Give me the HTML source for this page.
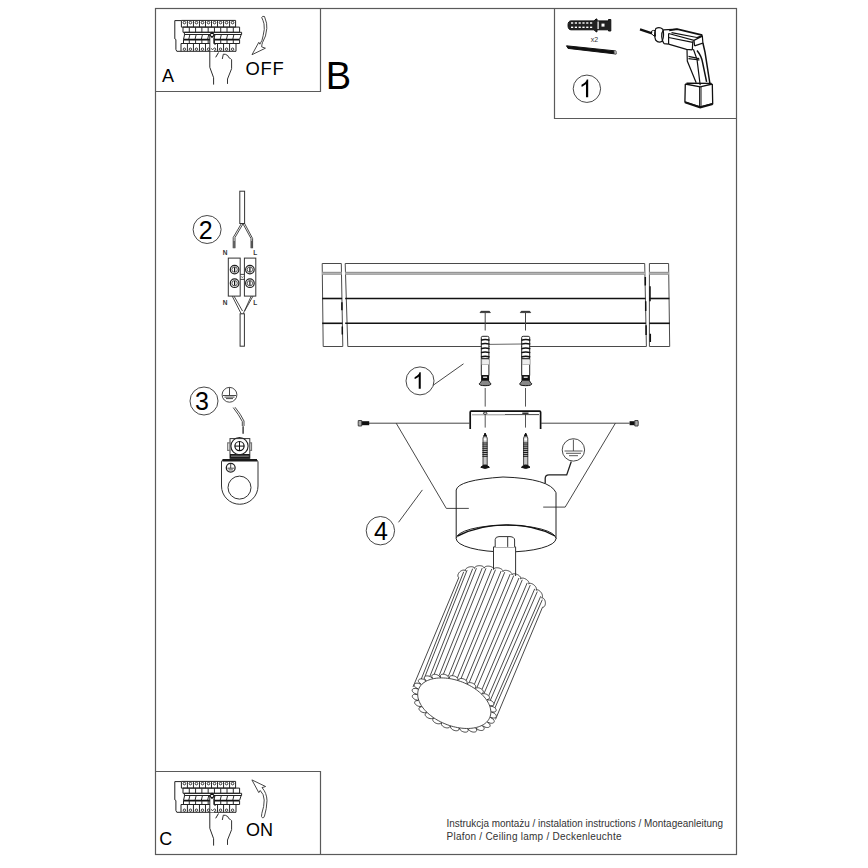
<!DOCTYPE html>
<html><head><meta charset="utf-8"><style>
html,body{margin:0;padding:0;background:#fff;}
svg{display:block;font-family:"Liberation Sans",sans-serif;}
</style></head><body>
<svg width="868" height="868" viewBox="0 0 868 868">
<rect width="868" height="868" fill="#fff"/>
<rect x="155.5" y="8.5" width="581" height="846" fill="none" stroke="#5a5a5a" stroke-width="1.2"/>
<path d="M320.5,8.5 V91.5 H155.5" stroke="#5a5a5a" stroke-width="1.2" fill="none" />
<path d="M554.5,8.5 V118.5 H736.5" stroke="#5a5a5a" stroke-width="1.2" fill="none" />
<path d="M155.5,771.5 H320.5 V854.5" stroke="#5a5a5a" stroke-width="1.2" fill="none" />
<path d="M181.2,20.6 H174.8 V38.8 L175.9,39.5 V49.5 L176.8,51.3 H236" stroke="#222" stroke-width="1" fill="none"/>
<path d="M181.4,27.1 V20.4 H235.6 V27.1 Z" stroke="#222" stroke-width="1" fill="none"/>
<path d="M187.42,20.4 V27.1" stroke="#2a2a2a" stroke-width="1" fill="none"/>
<path d="M193.44,20.4 V27.1" stroke="#2a2a2a" stroke-width="1" fill="none"/>
<path d="M199.47,20.4 V27.1" stroke="#2a2a2a" stroke-width="1" fill="none"/>
<path d="M205.49,20.4 V27.1" stroke="#2a2a2a" stroke-width="1" fill="none"/>
<path d="M211.51,20.4 V27.1" stroke="#2a2a2a" stroke-width="1" fill="none"/>
<path d="M217.53,20.4 V27.1" stroke="#2a2a2a" stroke-width="1" fill="none"/>
<path d="M223.56,20.4 V27.1" stroke="#2a2a2a" stroke-width="1" fill="none"/>
<path d="M229.58,20.4 V27.1" stroke="#2a2a2a" stroke-width="1" fill="none"/>
<circle cx="184.41" cy="22.6" r="1.3" stroke="#222" stroke-width="0.9" fill="none"/>
<circle cx="190.43" cy="22.6" r="1.3" stroke="#222" stroke-width="0.9" fill="none"/>
<circle cx="196.46" cy="22.6" r="1.3" stroke="#222" stroke-width="0.9" fill="none"/>
<circle cx="202.48" cy="22.6" r="1.3" stroke="#222" stroke-width="0.9" fill="none"/>
<circle cx="208.50" cy="22.6" r="1.3" stroke="#222" stroke-width="0.9" fill="none"/>
<circle cx="214.52" cy="22.6" r="1.3" stroke="#222" stroke-width="0.9" fill="none"/>
<circle cx="220.54" cy="22.6" r="1.3" stroke="#222" stroke-width="0.9" fill="none"/>
<circle cx="226.57" cy="22.6" r="1.3" stroke="#222" stroke-width="0.9" fill="none"/>
<circle cx="232.59" cy="22.6" r="1.3" stroke="#222" stroke-width="0.9" fill="none"/>
<path d="M183.0,32.3 V27.1 H239.6 V32.3 Z" stroke="#222" stroke-width="1" fill="none"/>
<path d="M189.29,27.1 V32.3" stroke="#2a2a2a" stroke-width="1" fill="none"/>
<path d="M195.58,27.1 V32.3" stroke="#2a2a2a" stroke-width="1" fill="none"/>
<path d="M201.87,27.1 V32.3" stroke="#2a2a2a" stroke-width="1" fill="none"/>
<path d="M208.16,27.1 V32.3" stroke="#2a2a2a" stroke-width="1" fill="none"/>
<path d="M214.44,27.1 V32.3" stroke="#2a2a2a" stroke-width="1" fill="none"/>
<path d="M220.73,27.1 V32.3" stroke="#2a2a2a" stroke-width="1" fill="none"/>
<path d="M227.02,27.1 V32.3" stroke="#2a2a2a" stroke-width="1" fill="none"/>
<path d="M233.31,27.1 V32.3" stroke="#2a2a2a" stroke-width="1" fill="none"/>
<path d="M184.4,32.3 H241.6 V34.5 H184.4 Z" stroke="#222" stroke-width="1" fill="none"/>
<path d="M183.5,39.5 L184.6,34.5 M241.2,34.5 L239.5,39.5" stroke="#222" stroke-width="1" fill="none"/>
<path d="M189.89,34.5 L188.69,39.5" stroke="#2a2a2a" stroke-width="1" fill="none"/>
<path d="M196.18,34.5 L194.98,39.5" stroke="#2a2a2a" stroke-width="1" fill="none"/>
<path d="M202.47,34.5 L201.27,39.5" stroke="#2a2a2a" stroke-width="1" fill="none"/>
<path d="M208.76,34.5 L207.56,39.5" stroke="#2a2a2a" stroke-width="1" fill="none"/>
<path d="M215.04,34.5 L213.84,39.5" stroke="#2a2a2a" stroke-width="1" fill="none"/>
<path d="M221.33,34.5 L220.13,39.5" stroke="#2a2a2a" stroke-width="1" fill="none"/>
<path d="M227.62,34.5 L226.42,39.5" stroke="#2a2a2a" stroke-width="1" fill="none"/>
<path d="M233.91,34.5 L232.71,39.5" stroke="#2a2a2a" stroke-width="1" fill="none"/>
<path d="M183.5,39.6 H239.3" stroke="#111" stroke-width="1.6" fill="none"/>
<path d="M183.5,39.6 V43.5 H239.6 V39.6" stroke="#222" stroke-width="1" fill="none"/>
<path d="M189.29,39.6 V43.5" stroke="#2a2a2a" stroke-width="1" fill="none"/>
<path d="M195.58,39.6 V43.5" stroke="#2a2a2a" stroke-width="1" fill="none"/>
<path d="M201.87,39.6 V43.5" stroke="#2a2a2a" stroke-width="1" fill="none"/>
<path d="M208.16,39.6 V43.5" stroke="#2a2a2a" stroke-width="1" fill="none"/>
<path d="M214.44,39.6 V43.5" stroke="#2a2a2a" stroke-width="1" fill="none"/>
<path d="M220.73,39.6 V43.5" stroke="#2a2a2a" stroke-width="1" fill="none"/>
<path d="M227.02,39.6 V43.5" stroke="#2a2a2a" stroke-width="1" fill="none"/>
<path d="M233.31,39.6 V43.5" stroke="#2a2a2a" stroke-width="1" fill="none"/>
<path d="M181,43.5 V51.3 M236,43.5 V51.3 M181,43.5 H236" stroke="#222" stroke-width="1" fill="none"/>
<path d="M187.42,43.5 V51.3" stroke="#2a2a2a" stroke-width="1" fill="none"/>
<path d="M193.44,43.5 V51.3" stroke="#2a2a2a" stroke-width="1" fill="none"/>
<path d="M199.47,43.5 V51.3" stroke="#2a2a2a" stroke-width="1" fill="none"/>
<path d="M205.49,43.5 V51.3" stroke="#2a2a2a" stroke-width="1" fill="none"/>
<path d="M211.51,43.5 V51.3" stroke="#2a2a2a" stroke-width="1" fill="none"/>
<path d="M217.53,43.5 V51.3" stroke="#2a2a2a" stroke-width="1" fill="none"/>
<path d="M223.56,43.5 V51.3" stroke="#2a2a2a" stroke-width="1" fill="none"/>
<path d="M229.58,43.5 V51.3" stroke="#2a2a2a" stroke-width="1" fill="none"/>
<circle cx="184.41" cy="49.2" r="1.2" stroke="#222" stroke-width="0.9" fill="none"/>
<circle cx="190.43" cy="49.2" r="1.2" stroke="#222" stroke-width="0.9" fill="none"/>
<circle cx="196.46" cy="49.2" r="1.2" stroke="#222" stroke-width="0.9" fill="none"/>
<circle cx="202.48" cy="49.2" r="1.2" stroke="#222" stroke-width="0.9" fill="none"/>
<circle cx="208.50" cy="49.2" r="1.2" stroke="#222" stroke-width="0.9" fill="none"/>
<circle cx="214.52" cy="49.2" r="1.2" stroke="#222" stroke-width="0.9" fill="none"/>
<circle cx="220.54" cy="49.2" r="1.2" stroke="#222" stroke-width="0.9" fill="none"/>
<circle cx="226.57" cy="49.2" r="1.2" stroke="#222" stroke-width="0.9" fill="none"/>
<circle cx="232.59" cy="49.2" r="1.2" stroke="#222" stroke-width="0.9" fill="none"/>
<rect x="210" y="34.8" width="4" height="16.5" fill="#fff"/>
<path d="M209.8,35 V67.3 L213.6,77.7 V84.6" stroke="#2a2a2a" stroke-width="1" fill="none"/>
<path d="M214,35 V43.5" stroke="#2a2a2a" stroke-width="1" fill="none"/>
<path d="M209.8,34.8 L212,32.4 L214.3,34.8 L212,37.3 Z" fill="#fff" stroke="#111" stroke-width="1.2"/>
<path d="M214.1,38 V43.5 L215.5,45" stroke="#222" stroke-width="1" fill="none"/>
<path d="M211.3,48.2 L212.5,50 L213.7,48.2" stroke="#333" stroke-width="0.8" fill="none"/>
<path d="M215.7,57.3 L218.5,52.5" stroke="#222" stroke-width="1" fill="none"/>
<path d="M222.3,59 L223.3,54.2 Q225.5,53.8 227.8,55.6 L228.8,57.6 Q230.5,58.2 231.6,59.7 V68.7 L227.5,79 V83.9" stroke="#333" stroke-width="1" fill="none"/>
<path d="M181.2,781.6 H174.8 V799.8 L175.9,800.5 V810.5 L176.8,812.3 H236" stroke="#222" stroke-width="1" fill="none"/>
<path d="M181.4,788.1 V781.4 H235.6 V788.1 Z" stroke="#222" stroke-width="1" fill="none"/>
<path d="M187.42,781.4 V788.1" stroke="#2a2a2a" stroke-width="1" fill="none"/>
<path d="M193.44,781.4 V788.1" stroke="#2a2a2a" stroke-width="1" fill="none"/>
<path d="M199.47,781.4 V788.1" stroke="#2a2a2a" stroke-width="1" fill="none"/>
<path d="M205.49,781.4 V788.1" stroke="#2a2a2a" stroke-width="1" fill="none"/>
<path d="M211.51,781.4 V788.1" stroke="#2a2a2a" stroke-width="1" fill="none"/>
<path d="M217.53,781.4 V788.1" stroke="#2a2a2a" stroke-width="1" fill="none"/>
<path d="M223.56,781.4 V788.1" stroke="#2a2a2a" stroke-width="1" fill="none"/>
<path d="M229.58,781.4 V788.1" stroke="#2a2a2a" stroke-width="1" fill="none"/>
<circle cx="184.41" cy="783.6" r="1.3" stroke="#222" stroke-width="0.9" fill="none"/>
<circle cx="190.43" cy="783.6" r="1.3" stroke="#222" stroke-width="0.9" fill="none"/>
<circle cx="196.46" cy="783.6" r="1.3" stroke="#222" stroke-width="0.9" fill="none"/>
<circle cx="202.48" cy="783.6" r="1.3" stroke="#222" stroke-width="0.9" fill="none"/>
<circle cx="208.50" cy="783.6" r="1.3" stroke="#222" stroke-width="0.9" fill="none"/>
<circle cx="214.52" cy="783.6" r="1.3" stroke="#222" stroke-width="0.9" fill="none"/>
<circle cx="220.54" cy="783.6" r="1.3" stroke="#222" stroke-width="0.9" fill="none"/>
<circle cx="226.57" cy="783.6" r="1.3" stroke="#222" stroke-width="0.9" fill="none"/>
<circle cx="232.59" cy="783.6" r="1.3" stroke="#222" stroke-width="0.9" fill="none"/>
<path d="M183.0,793.3 V788.1 H239.6 V793.3 Z" stroke="#222" stroke-width="1" fill="none"/>
<path d="M189.29,788.1 V793.3" stroke="#2a2a2a" stroke-width="1" fill="none"/>
<path d="M195.58,788.1 V793.3" stroke="#2a2a2a" stroke-width="1" fill="none"/>
<path d="M201.87,788.1 V793.3" stroke="#2a2a2a" stroke-width="1" fill="none"/>
<path d="M208.16,788.1 V793.3" stroke="#2a2a2a" stroke-width="1" fill="none"/>
<path d="M214.44,788.1 V793.3" stroke="#2a2a2a" stroke-width="1" fill="none"/>
<path d="M220.73,788.1 V793.3" stroke="#2a2a2a" stroke-width="1" fill="none"/>
<path d="M227.02,788.1 V793.3" stroke="#2a2a2a" stroke-width="1" fill="none"/>
<path d="M233.31,788.1 V793.3" stroke="#2a2a2a" stroke-width="1" fill="none"/>
<path d="M184.4,793.3 H241.6 V795.5 H184.4 Z" stroke="#222" stroke-width="1" fill="none"/>
<path d="M183.5,800.5 L184.6,795.5 M241.2,795.5 L239.5,800.5" stroke="#222" stroke-width="1" fill="none"/>
<path d="M189.89,795.5 L188.69,800.5" stroke="#2a2a2a" stroke-width="1" fill="none"/>
<path d="M196.18,795.5 L194.98,800.5" stroke="#2a2a2a" stroke-width="1" fill="none"/>
<path d="M202.47,795.5 L201.27,800.5" stroke="#2a2a2a" stroke-width="1" fill="none"/>
<path d="M208.76,795.5 L207.56,800.5" stroke="#2a2a2a" stroke-width="1" fill="none"/>
<path d="M215.04,795.5 L213.84,800.5" stroke="#2a2a2a" stroke-width="1" fill="none"/>
<path d="M221.33,795.5 L220.13,800.5" stroke="#2a2a2a" stroke-width="1" fill="none"/>
<path d="M227.62,795.5 L226.42,800.5" stroke="#2a2a2a" stroke-width="1" fill="none"/>
<path d="M233.91,795.5 L232.71,800.5" stroke="#2a2a2a" stroke-width="1" fill="none"/>
<path d="M183.5,800.6 H239.3" stroke="#111" stroke-width="1.6" fill="none"/>
<path d="M183.5,800.6 V804.5 H239.6 V800.6" stroke="#222" stroke-width="1" fill="none"/>
<path d="M189.29,800.6 V804.5" stroke="#2a2a2a" stroke-width="1" fill="none"/>
<path d="M195.58,800.6 V804.5" stroke="#2a2a2a" stroke-width="1" fill="none"/>
<path d="M201.87,800.6 V804.5" stroke="#2a2a2a" stroke-width="1" fill="none"/>
<path d="M208.16,800.6 V804.5" stroke="#2a2a2a" stroke-width="1" fill="none"/>
<path d="M214.44,800.6 V804.5" stroke="#2a2a2a" stroke-width="1" fill="none"/>
<path d="M220.73,800.6 V804.5" stroke="#2a2a2a" stroke-width="1" fill="none"/>
<path d="M227.02,800.6 V804.5" stroke="#2a2a2a" stroke-width="1" fill="none"/>
<path d="M233.31,800.6 V804.5" stroke="#2a2a2a" stroke-width="1" fill="none"/>
<path d="M181,804.5 V812.3 M236,804.5 V812.3 M181,804.5 H236" stroke="#222" stroke-width="1" fill="none"/>
<path d="M187.42,804.5 V812.3" stroke="#2a2a2a" stroke-width="1" fill="none"/>
<path d="M193.44,804.5 V812.3" stroke="#2a2a2a" stroke-width="1" fill="none"/>
<path d="M199.47,804.5 V812.3" stroke="#2a2a2a" stroke-width="1" fill="none"/>
<path d="M205.49,804.5 V812.3" stroke="#2a2a2a" stroke-width="1" fill="none"/>
<path d="M211.51,804.5 V812.3" stroke="#2a2a2a" stroke-width="1" fill="none"/>
<path d="M217.53,804.5 V812.3" stroke="#2a2a2a" stroke-width="1" fill="none"/>
<path d="M223.56,804.5 V812.3" stroke="#2a2a2a" stroke-width="1" fill="none"/>
<path d="M229.58,804.5 V812.3" stroke="#2a2a2a" stroke-width="1" fill="none"/>
<circle cx="184.41" cy="810.2" r="1.2" stroke="#222" stroke-width="0.9" fill="none"/>
<circle cx="190.43" cy="810.2" r="1.2" stroke="#222" stroke-width="0.9" fill="none"/>
<circle cx="196.46" cy="810.2" r="1.2" stroke="#222" stroke-width="0.9" fill="none"/>
<circle cx="202.48" cy="810.2" r="1.2" stroke="#222" stroke-width="0.9" fill="none"/>
<circle cx="208.50" cy="810.2" r="1.2" stroke="#222" stroke-width="0.9" fill="none"/>
<circle cx="214.52" cy="810.2" r="1.2" stroke="#222" stroke-width="0.9" fill="none"/>
<circle cx="220.54" cy="810.2" r="1.2" stroke="#222" stroke-width="0.9" fill="none"/>
<circle cx="226.57" cy="810.2" r="1.2" stroke="#222" stroke-width="0.9" fill="none"/>
<circle cx="232.59" cy="810.2" r="1.2" stroke="#222" stroke-width="0.9" fill="none"/>
<rect x="210" y="795.8" width="4" height="16.5" fill="#fff"/>
<path d="M209.8,796 V828.3 L213.6,838.7 V845.6" stroke="#2a2a2a" stroke-width="1" fill="none"/>
<path d="M214,796 V804.5" stroke="#2a2a2a" stroke-width="1" fill="none"/>
<path d="M209.8,795.8 L212,793.4 L214.3,795.8 L212,798.3 Z" fill="#fff" stroke="#111" stroke-width="1.2"/>
<path d="M214.1,799 V804.5 L215.5,806" stroke="#222" stroke-width="1" fill="none"/>
<path d="M211.3,809.2 L212.5,811 L213.7,809.2" stroke="#333" stroke-width="0.8" fill="none"/>
<path d="M215.7,818.3 L218.5,813.5" stroke="#222" stroke-width="1" fill="none"/>
<path d="M222.3,820 L223.3,815.2 Q225.5,814.8 227.8,816.6 L228.8,818.6 Q230.5,819.2 231.6,820.7 V829.7 L227.5,840 V844.9" stroke="#333" stroke-width="1" fill="none"/>
<path d="M261.7,17.4 Q262.5,15.8 264.5,16.5 Q267.5,24 266.8,28.4 Q266.3,36.5 262.6,42.3 Q261.6,44.8 261.7,46.9 L265.4,48.2 L252,54.7 L258.8,42.3 L259.9,44.2 Q262.5,40.5 263.1,35.8 Q265,29 264,23.8 Q263,20 261.7,17.4 Z" stroke="#333" stroke-width="0.9" fill="none" />
<path d="M262.5,817.8 Q260.8,817.3 261.8,813.5 Q264.3,806 264.2,800 Q264,794 260.2,790.5 L258.8,792.6 L251.9,779.9 L265.6,786.5 L262,787.6 Q266.8,793 267,800.5 Q266.7,809 264.5,816 Q263.8,818.3 262.5,817.8 Z" stroke="#333" stroke-width="0.9" fill="none" />
<text x="162" y="81.9" font-size="18" text-anchor="start" fill="#000" >A</text>
<text font-size="18.4" fill="#000" y="74.7"><tspan x="245.6">O</tspan><tspan x="260.4">F</tspan><tspan x="272.6">F</tspan></text>
<text x="325.8" y="88.6" font-size="38" text-anchor="start" fill="#000" >B</text>
<text x="159.3" y="845" font-size="18" text-anchor="start" fill="#000" >C</text>
<text x="246" y="835.7" font-size="18" text-anchor="start" fill="#000" >ON</text>
<circle cx="586.9" cy="88.75" r="13.7" stroke="#333" stroke-width="0.9" fill="none"/>
<path d="M585.98,97.30 L588.19,97.30 L588.19,79.40 L586.76,79.40 L586.19,81.06 L585.21,82.16 L583.99,83.26 L582.77,84.12 L581.50,84.73 L581.50,86.85 L582.57,86.45 L583.92,85.62 L585.26,84.79 L585.98,84.02 Z" fill="#000"/>
<circle cx="207.1" cy="229.5" r="14" stroke="#333" stroke-width="0.9" fill="none"/>
<text x="205.79999999999998" y="238.5" font-size="25" text-anchor="middle" fill="#000" >2</text>
<circle cx="204" cy="401" r="14" stroke="#333" stroke-width="0.9" fill="none"/>
<text x="202.0" y="410.0" font-size="25" text-anchor="middle" fill="#000" >3</text>
<circle cx="420" cy="380.9" r="14" stroke="#333" stroke-width="0.9" fill="none"/>
<path d="M418.72,388.70 L420.75,388.70 L420.75,372.24 L419.44,372.24 L418.91,373.76 L418.01,374.77 L416.89,375.78 L415.77,376.57 L414.60,377.13 L414.60,379.09 L415.59,378.72 L416.82,377.95 L418.06,377.19 L418.72,376.48 Z" fill="#000"/>
<circle cx="380.4" cy="530.7" r="14.2" stroke="#333" stroke-width="0.9" fill="none"/>
<text x="381.0" y="539.7" font-size="25" text-anchor="middle" fill="#000" >4</text>
<line x1="433.1" y1="385.3" x2="463.5" y2="363.8" stroke="#333" stroke-width="0.9" />
<line x1="398.5" y1="522.3" x2="422.4" y2="489.9" stroke="#333" stroke-width="0.9" />
<text x="446.5" y="826.7" font-size="10" text-anchor="start" fill="#333" textLength="276.5" lengthAdjust="spacingAndGlyphs">Instrukcja montażu / instalation instructions / Montageanleitung</text>
<text x="446.5" y="839.6" font-size="10" text-anchor="start" fill="#333" textLength="175" lengthAdjust="spacing">Plafon / Ceiling lamp / Deckenleuchte</text>
<path d="M568,25.3 Q568,21 571,20.9 H594 L596,19 L597,19 V20.9 H608.5 V19.5 H610.8 V31 H608.5 V29.8 H597 V31.8 H596 L594,29.8 H571 Q568,29.8 568,25.3 Z" stroke="#111" stroke-width="1" fill="#222" />
<rect x="571.0" y="22.3" width="2.2" height="1.4" fill="#fff"/>
<rect x="571.0" y="26.6" width="2.2" height="1.4" fill="#fff"/>
<rect x="574.8" y="22.3" width="2.2" height="1.4" fill="#fff"/>
<rect x="574.8" y="26.6" width="2.2" height="1.4" fill="#fff"/>
<rect x="578.6" y="22.3" width="2.2" height="1.4" fill="#fff"/>
<rect x="578.6" y="26.6" width="2.2" height="1.4" fill="#fff"/>
<rect x="582.4" y="22.3" width="2.2" height="1.4" fill="#fff"/>
<rect x="582.4" y="26.6" width="2.2" height="1.4" fill="#fff"/>
<rect x="586.2" y="22.3" width="2.2" height="1.4" fill="#fff"/>
<rect x="586.2" y="26.6" width="2.2" height="1.4" fill="#fff"/>
<rect x="590.0" y="22.3" width="2.2" height="1.4" fill="#fff"/>
<rect x="590.0" y="26.6" width="2.2" height="1.4" fill="#fff"/>
<rect x="601.5" y="23.6" width="3" height="3" fill="#fff"/>
<rect x="597.5" y="21.5" width="1.2" height="7.5" fill="#fff"/>
<text x="594.5" y="41.5" font-size="7" text-anchor="middle" fill="#333" >x2</text>
<path d="M566.5,45.8 L615.5,50.9 L616,54 L568,48.4 Z" stroke="#111" stroke-width="1" fill="#111" />
<path d="M614,50.7 L616.2,51 L616.6,54 L614.4,53.7 Z" stroke="#666" stroke-width="0.6" fill="#bbb" />
<path d="M640,29.3 L652,33.3" stroke="#111" stroke-width="2.4" fill="none" />
<path d="M651.5,31.2 Q653.5,30 655.2,30.5 L655.5,36.3 Q652.6,35.8 651.5,33.5 Z" stroke="#111" stroke-width="1" fill="none" />
<path d="M655.8,28.6 Q659.5,26.5 662.8,29.2 Q664.6,35 662.2,41.2 Q658.5,43.5 655.6,40 Q653.6,34.5 655.8,28.6 Z" stroke="#111" stroke-width="1.2" fill="none" />
<path d="M663.5,29.8 Q661,33 661.7,36.7 Q662,41 664,43.6 M663.5,29.8 L677.3,29.2 M664,43.6 L668.6,44.2 M668.6,33.5 V44.2" stroke="#111" stroke-width="1.2" fill="none" />
<path d="M669.2,30.3 L677.3,29.2 L702.3,35.2" stroke="#111" stroke-width="1.8" fill="none" />
<path d="M671.5,32.6 L696.9,37.5 L702.3,35.5 M668.6,33.5 L694,40.4 L702.3,36.1 M668.6,37.5 L692.8,42.4" stroke="#111" stroke-width="1.2" fill="none" />
<path d="M668.6,44.2 L686.5,49.3 L692.3,49.9 M702.3,35.5 L702.9,43 L694.6,45.9 M692.8,41.3 L692.3,49.9 M694,40.4 L694.6,45.9" stroke="#111" stroke-width="1.2" fill="none" />
<path d="M687,49.3 L687.3,61 L696.2,82.7 M688.5,56.3 L699.2,58.6 M688.5,58.6 L699.5,60 M693.4,49.3 L697,59.4 L700.2,85.2" stroke="#111" stroke-width="1.2" fill="none" />
<path d="M697,50.5 Q701.5,56 702.6,62.6 L706.6,81.9 M702.9,43 L705,52.1 L709.9,83.5" stroke="#111" stroke-width="1.5" fill="none" />
<path d="M685.3,84 L700.2,86.8 L712.3,84 M686.5,83.2 L711.5,83.3 M685.3,84 L684.9,102.1 L700.2,106.9 L712.7,103.7 L712.3,84" stroke="#111" stroke-width="1.3" fill="none" />
<path d="M699.6,86.8 V106.9 M701,86.8 V106.9" stroke="#111" stroke-width="1" fill="none" />
<path d="M685,102.3 L700.2,107.4 L712.7,104" stroke="#111" stroke-width="2" fill="none" />
<rect x="239.8" y="191.2" width="4.8" height="32.3" fill="none" stroke="#333" stroke-width="1"/>
<path d="M241.4,223.5 L233.2,237.5 V248.2 M243.2,223.5 L235,237.5 V248.2" stroke="#333" stroke-width="0.9" fill="none" />
<path d="M242.8,223.5 L251,238.5 V248.2 M244.6,223.5 L252.6,238.5 V248.2" stroke="#333" stroke-width="0.9" fill="none" />
<path d="M234.1,241 V248.2 M251.8,241 V248.2" stroke="#444" stroke-width="1.2" fill="none" />
<text x="222.8" y="255" font-size="6.5" text-anchor="start" fill="#333" font-weight="bold">N</text>
<text x="253.3" y="255" font-size="6.5" text-anchor="start" fill="#333" font-weight="bold">L</text>
<rect x="228.3" y="258.1" width="11.9" height="38" fill="none" stroke="#333" stroke-width="1"/>
<rect x="244.4" y="258.1" width="11.4" height="38" fill="none" stroke="#333" stroke-width="1"/>
<path d="M240.2,274.4 H244.4 M240.2,279.4 H244.4" stroke="#333" stroke-width="0.9" fill="none" />
<path d="M241.3,276.3 L242.3,277.8 L243.3,276.3" fill="none" stroke="#555" stroke-width="0.7"/>
<circle cx="234.6" cy="269.6" r="4.3" stroke="#222" stroke-width="1.2" fill="none"/>
<circle cx="234.6" cy="269.6" r="2.7" stroke="#444" stroke-width="0.9" fill="none"/>
<line x1="234.6" y1="267.3" x2="234.6" y2="271.90000000000003" stroke="#111" stroke-width="1.2" />
<circle cx="234.6" cy="283.2" r="4.3" stroke="#222" stroke-width="1.2" fill="none"/>
<circle cx="234.6" cy="283.2" r="2.7" stroke="#444" stroke-width="0.9" fill="none"/>
<line x1="234.6" y1="280.9" x2="234.6" y2="285.5" stroke="#111" stroke-width="1.2" />
<circle cx="249.9" cy="269.6" r="4.3" stroke="#222" stroke-width="1.2" fill="none"/>
<circle cx="249.9" cy="269.6" r="2.7" stroke="#444" stroke-width="0.9" fill="none"/>
<line x1="249.9" y1="267.3" x2="249.9" y2="271.90000000000003" stroke="#111" stroke-width="1.2" />
<circle cx="249.9" cy="283.2" r="4.3" stroke="#222" stroke-width="1.2" fill="none"/>
<circle cx="249.9" cy="283.2" r="2.7" stroke="#444" stroke-width="0.9" fill="none"/>
<line x1="249.9" y1="280.9" x2="249.9" y2="285.5" stroke="#111" stroke-width="1.2" />
<text x="222.8" y="304.8" font-size="6.5" text-anchor="start" fill="#333" font-weight="bold">N</text>
<text x="253.3" y="304.8" font-size="6.5" text-anchor="start" fill="#333" font-weight="bold">L</text>
<path d="M232.2,296.1 L241.2,313.8 M234,296.1 L242.5,311 M251.2,296.1 L243.2,313.8 M253,296.1 L244.6,311" stroke="#333" stroke-width="0.9" fill="none" />
<rect x="240.1" y="313.8" width="4.3" height="32.4" fill="none" stroke="#333" stroke-width="1"/>
<circle cx="229.5" cy="394.8" r="7.4" stroke="#333" stroke-width="0.9" fill="none"/>
<path d="M229.5,387.4 V395.4 M223,395.5 H236 M224.5,397.1 H234.5 M226,398.6 H233" stroke="#333" stroke-width="0.9" fill="none" />
<path d="M233.2,407.6 Q239,415 242.3,421.5 V426 M235,407.2 Q241,414.5 244,421 V426" stroke="#333" stroke-width="0.9" fill="none" />
<path d="M243.1,426.3 V433.8" stroke="#333" stroke-width="1.4" fill="none" />
<rect x="230" y="438.6" width="19.8" height="19.7" fill="none" stroke="#333" stroke-width="1"/>
<rect x="230" y="454" width="19.8" height="4.6" fill="#1a1a1a"/>
<rect x="231" y="455.6" width="17.8" height="1.1" fill="#888"/>
<path d="M230,442.9 H227.7 V450.3 H230 M249.8,442.9 H251.5 V450.3 H249.8" stroke="#777" stroke-width="1.2" fill="none" />
<circle cx="239.5" cy="446.1" r="8.6" stroke="#222" stroke-width="1.1" fill="none"/>
<circle cx="239.5" cy="446.1" r="4.6" stroke="#111" stroke-width="1.2" fill="none"/>
<path d="M239.5,441.5 V450.7 M234.9,446.1 H244.1" stroke="#111" stroke-width="1" fill="none" />
<path d="M221.5,486 V462 Q221.5,460 223.5,460 H256 Q258,460 258,462 V486 A18.25,18.25 0 0 1 221.5,486 Z" stroke="#333" stroke-width="1" fill="none" />
<path d="M222.5,460.2 H257" stroke="#1a1a1a" stroke-width="2.4" fill="none" />
<circle cx="239.5" cy="487.6" r="11.5" stroke="#333" stroke-width="1" fill="none"/>
<circle cx="230.7" cy="467.8" r="4.4" stroke="#222" stroke-width="1.3" fill="none"/>
<path d="M230.7,463.8 V468.2 M227.5,468.2 H233.9 M228.5,469.9 H232.9" stroke="#333" stroke-width="0.9" fill="none" />
<path d="M323.2,346.5 L322.2,263.5 H341.3 L342.8,346.5 Z" stroke="#4a4a4a" stroke-width="1" fill="none" />
<path d="M347.8,346.5 L345.2,263.5 H644.7 L646.4,346.5 Z" stroke="#4a4a4a" stroke-width="1" fill="none" />
<path d="M649.4,346.5 L649.4,263.5 H668.6 L669.7,346.5 Z" stroke="#4a4a4a" stroke-width="1" fill="none" />
<rect x="322.2" y="271.8" width="19.400000000000034" height="2.8" fill="#c4c4c4"/>
<line x1="322.2" y1="272.4" x2="341.6" y2="272.4" stroke="#8a8a8a" stroke-width="0.9" />
<line x1="322.2" y1="274.2" x2="341.6" y2="274.2" stroke="#8a8a8a" stroke-width="0.9" />
<line x1="322.2" y1="298.5" x2="342.1" y2="298.5" stroke="#111" stroke-width="1.6" />
<line x1="322.2" y1="323.3" x2="342.5" y2="323.3" stroke="#111" stroke-width="1.6" />
<rect x="345.2" y="271.8" width="299.8" height="2.8" fill="#c4c4c4"/>
<line x1="345.2" y1="272.4" x2="645" y2="272.4" stroke="#8a8a8a" stroke-width="0.9" />
<line x1="345.2" y1="274.2" x2="645" y2="274.2" stroke="#8a8a8a" stroke-width="0.9" />
<line x1="345.2" y1="298.5" x2="645.5" y2="298.5" stroke="#111" stroke-width="1.6" />
<line x1="345.2" y1="323.3" x2="645.9" y2="323.3" stroke="#111" stroke-width="1.6" />
<rect x="649.4" y="271.8" width="19.5" height="2.8" fill="#c4c4c4"/>
<line x1="649.4" y1="272.4" x2="668.9" y2="272.4" stroke="#8a8a8a" stroke-width="0.9" />
<line x1="649.4" y1="274.2" x2="668.9" y2="274.2" stroke="#8a8a8a" stroke-width="0.9" />
<line x1="649.4" y1="298.5" x2="669.4" y2="298.5" stroke="#111" stroke-width="1.6" />
<line x1="649.4" y1="323.3" x2="669.8" y2="323.3" stroke="#111" stroke-width="1.6" />
<path d="M341.9,302.2 V310.3 M342.3,326.4 V334.5 M645.3,277 V285.6 M645.7,301.3 V311 M646.1,325.2 V335 M650,286.2 V301.3 M650.3,333.8 V342" stroke="#111" stroke-width="1.5" fill="none" />
<path d="M480.0,312.6 L481.0,311.3 H489.4 L490.4,312.6 Z" stroke="#222" stroke-width="0.7" fill="#222" />
<path d="M485.2,312.5 V330.5" stroke="#444" stroke-width="1" fill="none" />
<path d="M485.2,388 V406.6 M485.2,413.9 V427.6" stroke="#555" stroke-width="1" fill="none" />
<path d="M520.3,312.6 L521.3,311.3 H529.7 L530.7,312.6 Z" stroke="#222" stroke-width="0.7" fill="#222" />
<path d="M525.5,312.5 V330.5" stroke="#444" stroke-width="1" fill="none" />
<path d="M525.5,388 V406.6 M525.5,413.9 V427.6" stroke="#555" stroke-width="1" fill="none" />
<rect x="489.5" y="343" width="31.5" height="6" fill="#fff"/>
<line x1="488.8" y1="344.4" x2="521.6" y2="344.0" stroke="#555" stroke-width="0.9" />
<path d="M481.3,337.5 Q481.3,336.3 482.8,336.3 H487.4 Q488.9,336.3 488.9,337.5 V375.5 H481.3 Z" stroke="#222" stroke-width="1" fill="#fff" />
<path d="M481.0,340.29999999999995 Q485.1,338.9 489.5,340.29999999999995" stroke="#111" stroke-width="1.5" fill="none" />
<path d="M481.0,344.09999999999997 Q485.1,342.7 489.5,344.09999999999997" stroke="#111" stroke-width="1.5" fill="none" />
<path d="M481.0,348.7 Q485.1,347.3 489.5,348.7" stroke="#111" stroke-width="1.5" fill="none" />
<path d="M481.0,352.59999999999997 Q485.1,351.2 489.5,352.59999999999997" stroke="#111" stroke-width="1.5" fill="none" />
<path d="M481.0,357.0 Q485.1,355.6 489.5,357.0" stroke="#111" stroke-width="1.5" fill="none" />
<path d="M481.3,358.4 H488.9" stroke="#222" stroke-width="1.0" fill="none" />
<rect x="481.8" y="359.6" width="7.399999999999966" height="5" fill="#eee" stroke="#999" stroke-width="0.6"/>
<rect x="481.1" y="375.4" width="7.999999999999966" height="5" fill="#111"/>
<rect x="483.1" y="376.6" width="4" height="1.2" fill="#fff"/>
<path d="M521.7,337.5 Q521.7,336.3 523.2,336.3 H528.2 Q529.7,336.3 529.7,337.5 V375.5 H521.7 Z" stroke="#222" stroke-width="1" fill="#fff" />
<path d="M521.4000000000001,340.29999999999995 Q525.7,338.9 530.3000000000001,340.29999999999995" stroke="#111" stroke-width="1.5" fill="none" />
<path d="M521.4000000000001,344.09999999999997 Q525.7,342.7 530.3000000000001,344.09999999999997" stroke="#111" stroke-width="1.5" fill="none" />
<path d="M521.4000000000001,348.7 Q525.7,347.3 530.3000000000001,348.7" stroke="#111" stroke-width="1.5" fill="none" />
<path d="M521.4000000000001,352.59999999999997 Q525.7,351.2 530.3000000000001,352.59999999999997" stroke="#111" stroke-width="1.5" fill="none" />
<path d="M521.4000000000001,357.0 Q525.7,355.6 530.3000000000001,357.0" stroke="#111" stroke-width="1.5" fill="none" />
<path d="M521.7,358.4 H529.7" stroke="#222" stroke-width="1.0" fill="none" />
<rect x="522.2" y="359.6" width="7.8" height="5" fill="#eee" stroke="#999" stroke-width="0.6"/>
<rect x="521.5" y="375.4" width="8.4" height="5" fill="#111"/>
<rect x="523.7" y="376.6" width="4" height="1.2" fill="#fff"/>
<path d="M481.8,380.2 H488.4 Q489.2,382.5 490.9,383.6 Q491.4,385.6 485.1,385.7 Q478.8,385.6 479.3,383.6 Q481.0,382.5 481.8,380.2 Z" stroke="#111" stroke-width="1" fill="#888" />
<path d="M522.2,380.2 H529.2 Q530.0,382.5 531.7,383.6 Q532.2,385.6 525.7,385.7 Q519.2,385.6 519.7,383.6 Q521.4000000000001,382.5 522.2,380.2 Z" stroke="#111" stroke-width="1" fill="#888" />
<path d="M470.2,429 V412.2 Q470.2,411.2 471.2,411.2 H539.6 Q540.6,411.2 540.6,412.2 V429" stroke="#111" stroke-width="1.7" fill="none" />
<path d="M472,414.8 H505" stroke="#888" stroke-width="0.9" fill="none" />
<path d="M505,414.6 H539" stroke="#333" stroke-width="0.9" fill="none" />
<ellipse cx="485.2" cy="413.2" rx="1.8" ry="1.1" fill="none" stroke="#222" stroke-width="0.9"/>
<path d="M522.3,413.2 H528.5" stroke="#111" stroke-width="1.3" fill="none" />
<line x1="369" y1="423.2" x2="470" y2="423.2" stroke="#444" stroke-width="1" />
<line x1="541" y1="423.2" x2="629.6" y2="423.2" stroke="#444" stroke-width="1" />
<path d="M483.0,438 L485.1,433.2 L487.20000000000005,438 V465 H483.0 Z" stroke="#333" stroke-width="0.9" fill="#c8c8c8" />
<path d="M483.90000000000003,436 L485.1,433.2 L486.3,436 Z" stroke="#111" stroke-width="1" fill="#111" />
<line x1="482.40000000000003" y1="443.0" x2="487.5" y2="443.0" stroke="#1a1a1a" stroke-width="1.0" />
<line x1="482.40000000000003" y1="444.9" x2="487.5" y2="444.9" stroke="#1a1a1a" stroke-width="1.0" />
<line x1="482.40000000000003" y1="446.8" x2="487.5" y2="446.8" stroke="#1a1a1a" stroke-width="1.0" />
<line x1="482.40000000000003" y1="448.7" x2="487.5" y2="448.7" stroke="#1a1a1a" stroke-width="1.0" />
<line x1="482.40000000000003" y1="450.6" x2="487.5" y2="450.6" stroke="#1a1a1a" stroke-width="1.0" />
<line x1="482.40000000000003" y1="452.5" x2="487.5" y2="452.5" stroke="#1a1a1a" stroke-width="1.0" />
<line x1="482.40000000000003" y1="454.4" x2="487.5" y2="454.4" stroke="#1a1a1a" stroke-width="1.0" />
<line x1="482.40000000000003" y1="456.3" x2="487.5" y2="456.3" stroke="#1a1a1a" stroke-width="1.0" />
<rect x="483.8" y="438.3" width="2.6" height="2.2" fill="#fff"/>
<path d="M480.8,467.3 Q482.1,465.2 485.1,465.3 Q488.1,465.2 489.40000000000003,467.3 Q485.1,469.6 480.8,467.3 Z" stroke="#111" stroke-width="1" fill="#111" />
<path d="M523.6,438 L525.7,433.2 L527.8000000000001,438 V465 H523.6 Z" stroke="#333" stroke-width="0.9" fill="#c8c8c8" />
<path d="M524.5,436 L525.7,433.2 L526.9000000000001,436 Z" stroke="#111" stroke-width="1" fill="#111" />
<line x1="523.0" y1="443.0" x2="528.1" y2="443.0" stroke="#1a1a1a" stroke-width="1.0" />
<line x1="523.0" y1="444.9" x2="528.1" y2="444.9" stroke="#1a1a1a" stroke-width="1.0" />
<line x1="523.0" y1="446.8" x2="528.1" y2="446.8" stroke="#1a1a1a" stroke-width="1.0" />
<line x1="523.0" y1="448.7" x2="528.1" y2="448.7" stroke="#1a1a1a" stroke-width="1.0" />
<line x1="523.0" y1="450.6" x2="528.1" y2="450.6" stroke="#1a1a1a" stroke-width="1.0" />
<line x1="523.0" y1="452.5" x2="528.1" y2="452.5" stroke="#1a1a1a" stroke-width="1.0" />
<line x1="523.0" y1="454.4" x2="528.1" y2="454.4" stroke="#1a1a1a" stroke-width="1.0" />
<line x1="523.0" y1="456.3" x2="528.1" y2="456.3" stroke="#1a1a1a" stroke-width="1.0" />
<rect x="524.4000000000001" y="438.3" width="2.6" height="2.2" fill="#fff"/>
<path d="M521.4000000000001,467.3 Q522.7,465.2 525.7,465.3 Q528.7,465.2 530.0,467.3 Q525.7,469.6 521.4000000000001,467.3 Z" stroke="#111" stroke-width="1" fill="#111" />
<rect x="361.5" y="421.2" width="7.7" height="4" fill="#111"/>
<path d="M358.3,420.5 Q358,423.2 358.3,426 H361.7 V420.5 Z" stroke="#333" stroke-width="0.9" fill="#aaa" />
<rect x="629.6" y="421.2" width="5.2" height="4" fill="#111"/>
<path d="M634.8,420.5 H638 Q638.6,423.2 638,426 H634.8 Z" stroke="#333" stroke-width="0.9" fill="#aaa" />
<path d="M396.2,423.2 L446.3,508.4 H468.8" stroke="#333" stroke-width="0.9" fill="none" />
<path d="M615.4,423.2 L565.2,507.1 H543.2" stroke="#333" stroke-width="0.9" fill="none" />
<circle cx="573.4" cy="449.9" r="11.2" stroke="#333" stroke-width="0.9" fill="none"/>
<path d="M573.4,439.5 V451 M564.5,451 H582.5 M566,453.3 H581 M569,455.7 H578" stroke="#444" stroke-width="0.9" fill="none" />
<path d="M571.3,461.5 L566.7,474.9 H549 Q545.2,474.9 545.2,478.5 V483.5" stroke="#222" stroke-width="1.3" fill="none" />
<path d="M456.2,538.4 V490 Q458,480 503,477 Q550,478.5 556,492.7 V539" stroke="#222" stroke-width="1" fill="none" />
<ellipse cx="506.1" cy="538.6" rx="49.9" ry="13.4" fill="#fff" stroke="#222" stroke-width="1"/>
<path d="M457.5,536 Q480,525 506,524.9 Q535,525 555,536" stroke="#111" stroke-width="1.4" fill="none" />
<path d="M493.5,570 V546.9 H515.6 V576" stroke="#333" stroke-width="1" fill="#fff" />
<path d="M495.2,546.9 V539.5 Q495.5,536.6 499,536.6 H510 Q514.6,537 514.6,540 V546.9 M507.7,536.8 V546.9" stroke="#333" stroke-width="1" fill="#fff" />
<path d="M458.80,577.58 L459.21,576.59 L459.74,575.64 L460.38,574.74 L461.13,573.89 L461.99,573.08 L462.96,572.33 L464.03,571.64 L465.20,571.00 L466.47,570.42 L467.83,569.90 L469.28,569.45 L470.81,569.05 L472.43,568.72 L474.13,568.46 L475.89,568.26 L477.73,568.12 L479.63,568.06 L481.59,568.05 L483.59,568.12 L485.65,568.25 L487.75,568.45 L489.88,568.72 L492.04,569.05 L494.22,569.44 L496.43,569.90 L498.64,570.42 L500.86,571.00 L503.08,571.63 L505.29,572.33 L507.49,573.08 L509.67,573.88 L511.83,574.73 L513.96,575.63 L516.05,576.58 L518.09,577.57 L520.09,578.60 L522.04,579.67 L523.92,580.77 L525.75,581.91 L527.50,583.08 L529.18,584.27 L530.79,585.48 L532.31,586.71 L533.74,587.96 L535.08,589.22 L536.33,590.48 L537.48,591.76 L538.53,593.03 L539.48,594.31 L540.32,595.57 L541.05,596.83 L541.67,598.08 L542.18,599.31 L542.57,600.52 L542.85,601.71 L543.01,602.88 L543.06,604.02 L542.99,605.12 L542.80,606.19 L542.50,607.22 L495.47,719.44 L494.91,720.68 L494.25,721.88 L493.47,723.02 L492.59,724.11 L491.60,725.14 L490.51,726.12 L489.31,727.03 L488.03,727.87 L486.65,728.65 L485.18,729.36 L483.63,729.99 L481.99,730.55 L480.29,731.04 L478.50,731.45 L476.66,731.79 L474.75,732.04 L472.78,732.22 L470.77,732.31 L468.71,732.33 L466.61,732.27 L464.47,732.13 L462.31,731.90 L460.12,731.60 L457.92,731.22 L455.71,730.77 L453.50,730.24 L451.29,729.63 L449.08,728.96 L446.89,728.21 L444.72,727.39 L442.58,726.51 L440.46,725.56 L438.39,724.55 L436.36,723.49 L434.38,722.36 L432.45,721.19 L430.58,719.97 L428.78,718.70 L427.05,717.38 L425.39,716.03 L423.81,714.65 L422.31,713.23 L420.91,711.78 L419.59,710.31 L418.37,708.82 L417.24,707.32 L416.22,705.81 L415.30,704.28 L414.49,702.76 L413.79,701.23 L413.20,699.72 L412.72,698.21 L412.36,696.71 L412.11,695.23 L411.97,693.78 L411.95,692.35 L412.05,690.95 L412.26,689.58 L412.59,688.25 L413.03,686.96 Z" fill="#fff" stroke="none"/>
<line x1="463.69" y1="571.84" x2="420.58" y2="680.82" stroke="#2a2a2a" stroke-width="0.85"/>
<line x1="467.09" y1="570.17" x2="424.12" y2="678.70" stroke="#2a2a2a" stroke-width="0.85"/>
<line x1="472.67" y1="568.68" x2="429.76" y2="676.69" stroke="#2a2a2a" stroke-width="0.85"/>
<line x1="476.44" y1="568.21" x2="433.51" y2="675.96" stroke="#2a2a2a" stroke-width="0.85"/>
<line x1="482.22" y1="568.07" x2="439.18" y2="675.53" stroke="#2a2a2a" stroke-width="0.85"/>
<line x1="486.02" y1="568.28" x2="442.87" y2="675.60" stroke="#2a2a2a" stroke-width="0.85"/>
<line x1="491.76" y1="569.00" x2="448.40" y2="676.18" stroke="#2a2a2a" stroke-width="0.85"/>
<line x1="495.49" y1="569.70" x2="451.97" y2="676.82" stroke="#2a2a2a" stroke-width="0.85"/>
<line x1="501.11" y1="571.06" x2="457.30" y2="678.16" stroke="#2a2a2a" stroke-width="0.85"/>
<line x1="504.75" y1="572.15" x2="460.73" y2="679.26" stroke="#2a2a2a" stroke-width="0.85"/>
<line x1="510.20" y1="574.08" x2="465.83" y2="681.27" stroke="#2a2a2a" stroke-width="0.85"/>
<line x1="513.72" y1="575.53" x2="469.10" y2="682.80" stroke="#2a2a2a" stroke-width="0.85"/>
<line x1="518.95" y1="578.00" x2="473.91" y2="685.46" stroke="#2a2a2a" stroke-width="0.85"/>
<line x1="522.29" y1="579.81" x2="476.96" y2="687.43" stroke="#2a2a2a" stroke-width="0.85"/>
<line x1="527.20" y1="582.87" x2="481.39" y2="690.78" stroke="#2a2a2a" stroke-width="0.85"/>
<line x1="530.28" y1="585.09" x2="484.14" y2="693.24" stroke="#2a2a2a" stroke-width="0.85"/>
<line x1="534.69" y1="588.83" x2="488.00" y2="697.43" stroke="#2a2a2a" stroke-width="0.85"/>
<line x1="537.32" y1="591.57" x2="490.24" y2="700.51" stroke="#2a2a2a" stroke-width="0.85"/>
<line x1="540.72" y1="596.24" x2="493.00" y2="705.83" stroke="#2a2a2a" stroke-width="0.85"/>
<line x1="542.31" y1="599.68" x2="494.13" y2="709.80" stroke="#2a2a2a" stroke-width="0.85"/>
<line x1="458.80" y1="577.58" x2="413.03" y2="686.96" stroke="#333" stroke-width="0.9"/>
<line x1="542.50" y1="607.22" x2="495.47" y2="719.44" stroke="#333" stroke-width="0.9"/>
<path d="M458.80,577.58 L458.05,576.85 L457.89,576.29 L457.85,575.76 L457.89,575.26 L457.99,574.76 L458.14,574.29 L458.33,573.84 L458.56,573.40 L458.81,572.99 L459.10,572.60 L459.41,572.23 L459.74,571.88 L460.10,571.57 L460.47,571.27 L460.86,571.01 L461.26,570.77 L461.68,570.56 L462.12,570.39 L462.56,570.25 L463.03,570.15 L463.51,570.11 L464.01,570.12 L464.56,570.25 L465.35,570.92 L465.31,569.88 L465.54,569.37 L465.83,568.97 L466.15,568.62 L466.49,568.31 L466.86,568.04 L467.23,567.80 L467.62,567.59 L468.01,567.40 L468.41,567.23 L468.82,567.09 L469.24,566.97 L469.66,566.87 L470.08,566.79 L470.51,566.74 L470.94,566.71 L471.37,566.70 L471.80,566.72 L472.24,566.77 L472.68,566.86 L473.13,567.00 L473.57,567.19 L474.03,567.50 L474.55,568.40 L474.84,567.40 L475.21,566.99 L475.59,566.69 L475.99,566.45 L476.39,566.26 L476.79,566.10 L477.20,565.97 L477.62,565.86 L478.03,565.78 L478.44,565.72 L478.86,565.68 L479.28,565.66 L479.69,565.66 L480.11,565.68 L480.53,565.72 L480.94,565.78 L481.36,565.87 L481.77,565.98 L482.18,566.12 L482.58,566.29 L482.99,566.51 L483.38,566.78 L483.77,567.17 L484.12,568.15 L484.58,567.22 L485.01,566.88 L485.44,566.65 L485.86,566.48 L486.28,566.35 L486.70,566.26 L487.12,566.20 L487.54,566.16 L487.96,566.14 L488.37,566.14 L488.78,566.17 L489.19,566.21 L489.60,566.27 L490.00,566.35 L490.41,566.45 L490.80,566.56 L491.20,566.71 L491.59,566.87 L491.97,567.06 L492.35,567.29 L492.72,567.55 L493.07,567.88 L493.41,568.31 L493.63,569.33 L494.20,568.46 L494.67,568.18 L495.12,568.00 L495.56,567.88 L495.99,567.81 L496.41,567.77 L496.84,567.75 L497.25,567.76 L497.67,567.80 L498.08,567.85 L498.48,567.92 L498.88,568.00 L499.28,568.11 L499.67,568.23 L500.05,568.38 L500.43,568.54 L500.81,568.72 L501.18,568.93 L501.54,569.16 L501.89,569.42 L502.22,569.73 L502.54,570.09 L502.83,570.56 L502.94,571.59 L503.60,570.79 L504.09,570.55 L504.56,570.42 L505.00,570.35 L505.44,570.33 L505.87,570.33 L506.29,570.36 L506.70,570.41 L507.11,570.48 L507.51,570.58 L507.91,570.69 L508.29,570.81 L508.68,570.96 L509.05,571.12 L509.42,571.30 L509.79,571.50 L510.14,571.72 L510.48,571.96 L510.82,572.23 L511.14,572.53 L511.44,572.86 L511.72,573.26 L511.96,573.75 L511.97,574.79 L512.71,574.06 L513.22,573.87 L513.70,573.79 L514.15,573.77 L514.59,573.78 L515.01,573.83 L515.43,573.90 L515.83,573.99 L516.23,574.11 L516.62,574.24 L517.00,574.39 L517.38,574.55 L517.74,574.74 L518.10,574.94 L518.45,575.16 L518.79,575.39 L519.12,575.65 L519.44,575.92 L519.75,576.22 L520.04,576.55 L520.31,576.92 L520.54,577.34 L520.73,577.85 L520.63,578.89 L521.44,578.24 L521.97,578.11 L522.45,578.08 L522.91,578.11 L523.34,578.17 L523.76,578.26 L524.17,578.38 L524.56,578.52 L524.94,578.68 L525.32,578.85 L525.68,579.05 L526.04,579.25 L526.38,579.48 L526.72,579.72 L527.04,579.98 L527.35,580.25 L527.65,580.55 L527.94,580.86 L528.21,581.20 L528.46,581.56 L528.68,581.96 L528.87,582.41 L528.99,582.94 L528.76,583.95 L529.64,583.41 L530.19,583.36 L530.67,583.39 L531.12,583.48 L531.55,583.60 L531.95,583.75 L532.34,583.92 L532.72,584.12 L533.08,584.33 L533.43,584.56 L533.76,584.81 L534.09,585.07 L534.40,585.35 L534.70,585.64 L534.98,585.95 L535.25,586.27 L535.51,586.61 L535.74,586.97 L535.96,587.35 L536.15,587.75 L536.30,588.19 L536.41,588.66 L536.44,589.21 L536.03,590.17 L537.01,589.80 L537.56,589.85 L538.03,589.98 L538.46,590.15 L538.85,590.36 L539.23,590.60 L539.58,590.86 L539.91,591.13 L540.23,591.43 L540.52,591.74 L540.80,592.06 L541.07,592.40 L541.31,592.76 L541.54,593.13 L541.75,593.51 L541.94,593.90 L542.10,594.31 L542.24,594.74 L542.35,595.17 L542.43,595.63 L542.46,596.10 L542.43,596.60 L542.29,597.14 L541.60,597.92 L542.64,597.90 L543.14,598.15 L543.55,598.45 L543.89,598.79 L544.19,599.16 L544.45,599.55 L544.68,599.95 L544.87,600.38 L545.04,600.82 L545.17,601.27 L545.28,601.73 L545.35,602.20 L545.39,602.68 L545.40,603.16 L545.38,603.64 L545.32,604.13 L545.22,604.61 L545.08,605.08 L544.90,605.54 L544.67,605.99 L544.38,606.41 L544.02,606.79 L543.55,607.12 L542.50,607.22" fill="none" stroke="#2a2a2a" stroke-width="0.9"/>
<path d="M490.32,717.41 L492.97,718.99 L493.75,719.85 L494.14,720.57 L494.28,721.20 L494.23,721.75 L494.02,722.23 L493.65,722.64 L493.13,722.96 L492.42,723.19 L491.50,723.29 L490.24,723.17 L487.27,722.06 L489.51,723.92 L490.01,724.81 L490.15,725.52 L490.07,726.10 L489.81,726.57 L489.41,726.96 L488.87,727.25 L488.19,727.44 L487.36,727.52 L486.35,727.44 L485.04,727.12 L482.31,725.62 L483.99,727.65 L484.20,728.52 L484.09,729.17 L483.78,729.66 L483.33,730.04 L482.76,730.30 L482.07,730.47 L481.28,730.52 L480.37,730.44 L479.33,730.19 L478.06,729.67 L475.72,727.87 L476.75,729.95 L476.64,730.76 L476.28,731.31 L475.78,731.69 L475.16,731.94 L474.45,732.07 L473.66,732.10 L472.80,732.00 L471.87,731.77 L470.85,731.37 L469.70,730.69 L467.88,728.69 L468.20,730.70 L467.78,731.40 L467.20,731.81 L466.52,732.06 L465.77,732.17 L464.97,732.17 L464.12,732.05 L463.25,731.81 L462.34,731.44 L461.40,730.91 L460.43,730.11 L459.24,728.03 L458.84,729.86 L458.14,730.39 L457.36,730.66 L456.55,730.75 L455.71,730.72 L454.86,730.57 L454.01,730.32 L453.17,729.96 L452.34,729.47 L451.55,728.84 L450.81,727.97 L450.32,725.93 L449.21,727.46 L448.27,727.81 L447.34,727.91 L446.44,727.85 L445.57,727.67 L444.72,727.39 L443.91,727.02 L443.15,726.55 L442.45,725.98 L441.84,725.28 L441.39,724.38 L441.63,722.50 L439.88,723.66 L438.74,723.80 L437.73,723.72 L436.79,723.51 L435.93,723.20 L435.13,722.80 L434.41,722.33 L433.78,721.78 L433.25,721.16 L432.86,720.44 L432.71,719.57 L433.66,717.95 L431.38,718.66 L430.12,718.59 L429.07,718.34 L428.16,717.99 L427.36,717.56 L426.66,717.07 L426.07,716.53 L425.60,715.94 L425.27,715.30 L425.12,714.59 L425.29,713.80 L426.90,712.55 L424.20,712.77 L422.90,712.48 L421.88,712.08 L421.04,711.61 L420.35,711.09 L419.79,710.54 L419.36,709.96 L419.08,709.36 L418.97,708.73 L419.08,708.09 L419.55,707.42 L421.73,706.60 L418.78,706.32 L417.50,705.84 L416.57,705.30 L415.85,704.74 L415.31,704.16 L414.92,703.58 L414.68,702.99 L414.61,702.41 L414.72,701.84 L415.08,701.30 L415.82,700.79 L418.44,700.46 L415.42,699.69 L414.24,699.04 L413.45,698.40 L412.89,697.78 L412.53,697.18 L412.33,696.60 L412.30,696.04 L412.44,695.52 L412.77,695.04 L413.35,694.62 L414.33,694.30 L417.24,694.47 L414.31,693.26 L413.31,692.48 L412.70,691.78 L412.34,691.14 L412.18,690.55 L412.18,690.00 L412.36,689.50 L412.70,689.06 L413.23,688.70 L414.01,688.44 L415.16,688.33 L418.18,688.99 L415.53,687.41 L414.75,686.55 L414.36,685.83 L414.22,685.20 L414.27,684.65 L414.48,684.17 L414.85,683.76 L415.37,683.44 L416.08,683.21 L417.00,683.11 L418.26,683.23 L421.23,684.34 L418.99,682.48 L418.49,681.59 L418.35,680.88 L418.43,680.30 L418.69,679.83 L419.09,679.44 L419.63,679.15 L420.31,678.96 L421.14,678.88 L422.15,678.96 L423.46,679.28 L426.19,680.78 L424.51,678.75 L424.30,677.88 L424.41,677.23 L424.72,676.74 L425.17,676.36 L425.74,676.10 L426.43,675.93 L427.22,675.88 L428.13,675.96 L429.17,676.21 L430.44,676.73 L432.78,678.53 L431.75,676.45 L431.86,675.64 L432.22,675.09 L432.72,674.71 L433.34,674.46 L434.05,674.33 L434.84,674.30 L435.70,674.40 L436.63,674.63 L437.65,675.03 L438.80,675.71 L440.62,677.71 L440.30,675.70 L440.72,675.00 L441.30,674.59 L441.98,674.34 L442.73,674.23 L443.53,674.23 L444.38,674.35 L445.25,674.59 L446.16,674.96 L447.10,675.49 L448.07,676.29 L449.26,678.37 L449.66,676.54 L450.36,676.01 L451.14,675.74 L451.95,675.65 L452.79,675.68 L453.64,675.83 L454.49,676.08 L455.33,676.44 L456.16,676.93 L456.95,677.56 L457.69,678.43 L458.18,680.47 L459.29,678.94 L460.23,678.59 L461.16,678.49 L462.06,678.55 L462.93,678.73 L463.78,679.01 L464.59,679.38 L465.35,679.85 L466.05,680.42 L466.66,681.12 L467.11,682.02 L466.87,683.90 L468.62,682.74 L469.76,682.60 L470.77,682.68 L471.71,682.89 L472.57,683.20 L473.37,683.60 L474.09,684.07 L474.72,684.62 L475.25,685.24 L475.64,685.96 L475.79,686.83 L474.84,688.45 L477.12,687.74 L478.38,687.81 L479.43,688.06 L480.34,688.41 L481.14,688.84 L481.84,689.33 L482.43,689.87 L482.90,690.46 L483.23,691.10 L483.38,691.81 L483.21,692.60 L481.60,693.85 L484.30,693.63 L485.60,693.92 L486.62,694.32 L487.46,694.79 L488.15,695.31 L488.71,695.86 L489.14,696.44 L489.42,697.04 L489.53,697.67 L489.42,698.31 L488.95,698.98 L486.77,699.80 L489.72,700.08 L491.00,700.56 L491.93,701.10 L492.65,701.66 L493.19,702.24 L493.58,702.82 L493.82,703.41 L493.89,703.99 L493.78,704.56 L493.42,705.10 L492.68,705.61 L490.06,705.94 L493.08,706.71 L494.26,707.36 L495.05,708.00 L495.61,708.62 L495.97,709.22 L496.17,709.80 L496.20,710.36 L496.06,710.88 L495.73,711.36 L495.15,711.78 L494.17,712.10 L491.26,711.93 L494.19,713.14 L495.19,713.92 L495.80,714.62 L496.16,715.26 L496.32,715.85 L496.32,716.40 L496.14,716.90 L495.80,717.34 L495.27,717.70 L494.49,717.96 L493.34,718.07 L490.32,717.41 Z" fill="#fff" stroke="#333" stroke-width="0.9"/>
<path d="M489.88,717.24 L489.40,718.32 L488.82,719.36 L488.15,720.35 L487.38,721.30 L486.53,722.20 L485.58,723.05 L484.55,723.84 L483.44,724.58 L482.24,725.25 L480.97,725.87 L479.62,726.42 L478.21,726.92 L476.73,727.34 L475.19,727.70 L473.59,727.99 L471.94,728.22 L470.24,728.38 L468.49,728.46 L466.71,728.48 L464.89,728.43 L463.05,728.31 L461.18,728.12 L459.29,727.86 L457.38,727.54 L455.47,727.14 L453.56,726.69 L451.64,726.16 L449.74,725.58 L447.84,724.93 L445.97,724.23 L444.11,723.46 L442.29,722.64 L440.49,721.77 L438.74,720.85 L437.03,719.88 L435.36,718.86 L433.75,717.80 L432.19,716.70 L430.69,715.56 L429.26,714.39 L427.90,713.19 L426.60,711.96 L425.39,710.71 L424.25,709.43 L423.20,708.14 L422.23,706.84 L421.34,705.52 L420.55,704.20 L419.85,702.88 L419.25,701.56 L418.74,700.24 L418.33,698.93 L418.01,697.63 L417.80,696.35 L417.69,695.08 L417.67,693.84 L417.76,692.63 L417.94,691.44 L418.23,690.28 L418.62,689.16 L419.10,688.08 L419.68,687.04 L420.35,686.05 L421.12,685.10 L421.97,684.20 L422.92,683.35 L423.95,682.56 L425.06,681.82 L426.26,681.15 L427.53,680.53 L428.88,679.98 L430.29,679.48 L431.77,679.06 L433.31,678.70 L434.91,678.41 L436.56,678.18 L438.26,678.02 L440.01,677.94 L441.79,677.92 L443.61,677.97 L445.45,678.09 L447.32,678.28 L449.21,678.54 L451.12,678.86 L453.03,679.26 L454.94,679.71 L456.86,680.24 L458.76,680.82 L460.66,681.47 L462.53,682.17 L464.39,682.94 L466.21,683.76 L468.01,684.63 L469.76,685.55 L471.47,686.52 L473.14,687.54 L474.75,688.60 L476.31,689.70 L477.81,690.84 L479.24,692.01 L480.60,693.21 L481.90,694.44 L483.11,695.69 L484.25,696.97 L485.30,698.26 L486.27,699.56 L487.16,700.88 L487.95,702.20 L488.65,703.52 L489.25,704.84 L489.76,706.16 L490.17,707.47 L490.49,708.77 L490.70,710.05 L490.81,711.32 L490.83,712.56 L490.74,713.77 L490.56,714.96 L490.27,716.12 L489.88,717.24 Z" fill="#fff" stroke="#333" stroke-width="0.9"/>
</svg>
</body></html>
